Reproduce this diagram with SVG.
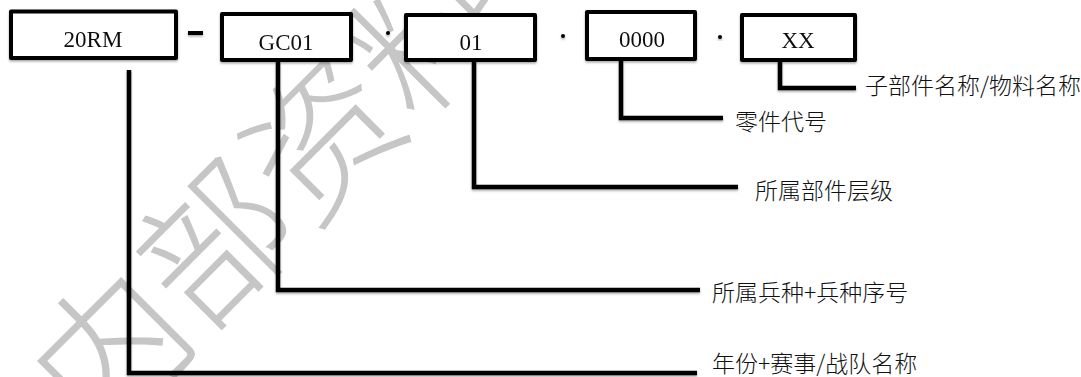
<svg xmlns="http://www.w3.org/2000/svg" width="1081" height="377" viewBox="0 0 1081 377">
  <style>
    .box { fill: #ffffff; stroke: #000000; stroke-width: 4; stroke-linejoin: round; }
    .code { font-family: "Liberation Serif", "Times New Roman", serif; font-size: 23px; fill: #111111; text-anchor: middle; }
    .wire { fill: none; stroke: #000000; stroke-width: 4.5; stroke-linejoin: miter; }
    .label { font-family: "Noto Sans CJK SC", "Noto Sans", sans-serif; font-size: 23px; font-weight: 300; fill: #111111; }
    .mark { font-family: "Noto Sans CJK SC", sans-serif; font-size: 150px; font-weight: 300; fill: #c6c6c6; text-anchor: middle; }
  </style>
  <defs>
    <filter id="soft" x="-10%" y="-10%" width="120%" height="130%">
      <feDropShadow dx="0" dy="1.5" stdDeviation="1" flood-color="#000000" flood-opacity="0.35"/>
    </filter>
  </defs>

  <rect width="1081" height="377" fill="#ffffff"/>

  <!-- background watermark -->
  <g id="watermark">
    <text class="mark" transform="translate(270,192) rotate(-45)" dy="0.36em">内部资料</text>
  </g>

  <!-- leader lines from each code segment to its description -->
  <g id="connectors" filter="url(#soft)">
    <path class="wire" d="M129,70 V373 H697"/>
    <path class="wire" d="M278,62 V290 H700"/>
    <path class="wire" d="M474,62 V187 H738"/>
    <path class="wire" d="M621,61 V118 H723"/>
    <path class="wire" d="M780,62 V88 H856"/>
  </g>

  <!-- separators between segments -->
  <g id="separators" filter="url(#soft)">
    <rect x="188" y="31" width="15" height="4" fill="#000000"/>
    <circle cx="388" cy="33" r="2" fill="#000000"/>
    <circle cx="563" cy="36" r="2" fill="#000000"/>
    <circle cx="720" cy="37" r="2" fill="#000000"/>
  </g>

  <g id="seg-year" filter="url(#soft)">
    <rect class="box" x="11" y="11.5" width="165" height="46.5"/>
    <text class="code" x="93" y="47">20RM</text>
  </g>
  <g id="seg-unit" filter="url(#soft)">
    <rect class="box" x="222" y="14" width="129" height="46"/>
    <text class="code" x="286" y="50">GC01</text>
  </g>
  <g id="seg-level" filter="url(#soft)">
    <rect class="box" x="406" y="15" width="129" height="45"/>
    <text class="code" x="471" y="50">01</text>
  </g>
  <g id="seg-part" filter="url(#soft)">
    <rect class="box" x="587" y="12" width="108" height="47"/>
    <text class="code" x="642" y="47">0000</text>
  </g>
  <g id="seg-name" filter="url(#soft)">
    <rect class="box" x="742" y="15" width="113" height="45"/>
    <text class="code" x="798" y="48">XX</text>
  </g>

  <!-- descriptions -->
  <g id="labels">
    <text class="label" x="865" y="94">子部件名称/物料名称</text>
    <text class="label" x="735" y="130">零件代号</text>
    <text class="label" x="755" y="199">所属部件层级</text>
    <text class="label" x="712" y="301">所属兵种+兵种序号</text>
    <text class="label" x="712" y="372">年份+赛事/战队名称</text>
  </g>
</svg>
